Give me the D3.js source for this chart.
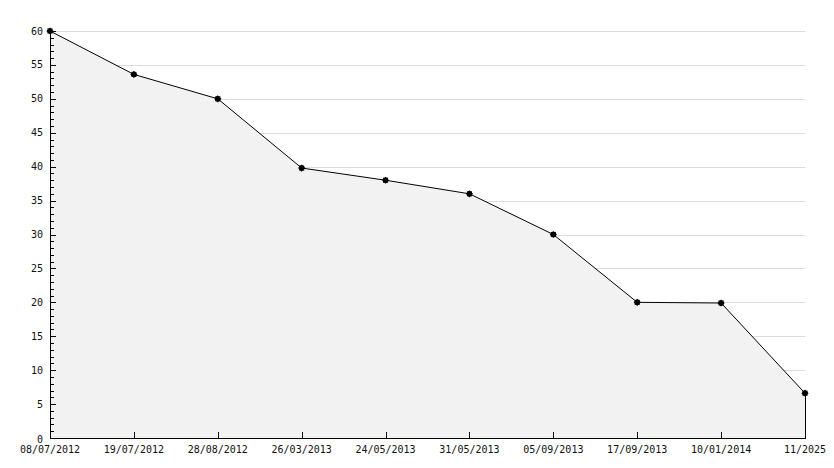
<!DOCTYPE html>
<html><head><meta charset="utf-8">
<script src="https://cdn.jsdelivr.net/npm/d3@7"></script>
<style>body{margin:0;background:#fff}svg{display:block}text{font-family:"DejaVu Sans Mono",monospace;font-size:10px;fill:#111}</style>
</head><body>
<svg id="c" width="834" height="468"></svg>
<script>
const categories = ["08/07/2012","19/07/2012","28/08/2012","26/03/2013","24/05/2013","31/05/2013","05/09/2013","17/09/2013","10/01/2014","11/2025"];
const values = [60, 53.6, 50, 39.8, 38, 36, 30, 20, 19.9, 6.6];
const yTicks = [0,5,10,15,20,25,30,35,40,45,50,55,60];

const svg = d3.select("#c");
const x0 = 50, x1 = 805, yTop = 31, yBot = 438;
const x = d3.scalePoint().domain(categories).range([x0, x1]);
const y = d3.scaleLinear().domain([0, 60]).range([yBot, yTop]);

// grid
svg.append("g").selectAll("line").data(yTicks.filter(d => d > 0)).join("line")
  .attr("x1", x0).attr("x2", x1).attr("y1", d => Math.round(y(d)) + 0.5).attr("y2", d => Math.round(y(d)) + 0.5)
  .attr("stroke", "#dcdcdc").attr("stroke-width", 1);

// area
const pts = categories.map((c, i) => [x(c), y(values[i])]);
const area = d3.area().x(d => d[0]).y0(yBot).y1(d => d[1]);
svg.append("path").datum(pts).attr("d", area).attr("fill", "#f2f2f2");

// line
svg.append("path").datum(pts).attr("d", d3.line()).attr("fill", "none").attr("stroke", "#000").attr("stroke-width", 1);
// vertical drop at last point
svg.append("line").attr("x1", Math.round(x(categories[categories.length-1])) + 0.5).attr("x2", Math.round(x(categories[categories.length-1])) + 0.5)
  .attr("y1", y(values[values.length-1])).attr("y2", yBot).attr("stroke", "#000");

// y axis
const yAxis = svg.append("g");
yAxis.append("line").attr("x1", x0 + 0.5).attr("x2", x0 + 0.5).attr("y1", yTop).attr("y2", yBot).attr("stroke", "#000");
const minor = d3.range(0, 61, 1);
yAxis.selectAll("line.m").data(minor).join("line").attr("class", "m")
  .attr("x1", x0).attr("x2", d => d % 5 === 0 ? x0 + 6 : x0 + 4)
  .attr("y1", d => Math.round(y(d)) + 0.5).attr("y2", d => Math.round(y(d)) + 0.5).attr("stroke", "#000");
yAxis.selectAll("text").data(yTicks).join("text")
  .attr("x", 43).attr("y", d => d === 0 ? y(d) + 1 : y(d)).attr("dy", "0.35em").attr("text-anchor", "end").text(d => d);

// x axis
const xAxis = svg.append("g");
xAxis.append("line").attr("x1", x0).attr("x2", x1 + 1).attr("y1", yBot + 0.5).attr("y2", yBot + 0.5).attr("stroke", "#000");
xAxis.selectAll("line.t").data(categories).join("line").attr("class", "t")
  .attr("x1", d => Math.round(x(d)) + 0.5).attr("x2", d => Math.round(x(d)) + 0.5)
  .attr("y1", yBot - 6).attr("y2", yBot).attr("stroke", "#000");
xAxis.selectAll("text").data(categories).join("text")
  .attr("x", d => x(d)).attr("y", 453).attr("text-anchor", "middle").text(d => d);

// markers
const star = d3.symbol().type(d3.symbolSquare).size(26);
svg.append("g").selectAll("path").data(pts).join("path")
  .attr("transform", d => `translate(${d[0]},${d[1]})`).attr("d", star).attr("fill", "#000");
svg.append("g").selectAll("path").data(pts).join("path")
  .attr("transform", d => `translate(${d[0]},${d[1]}) rotate(45)`).attr("d", star).attr("fill", "#000");
</script>
</body></html>
